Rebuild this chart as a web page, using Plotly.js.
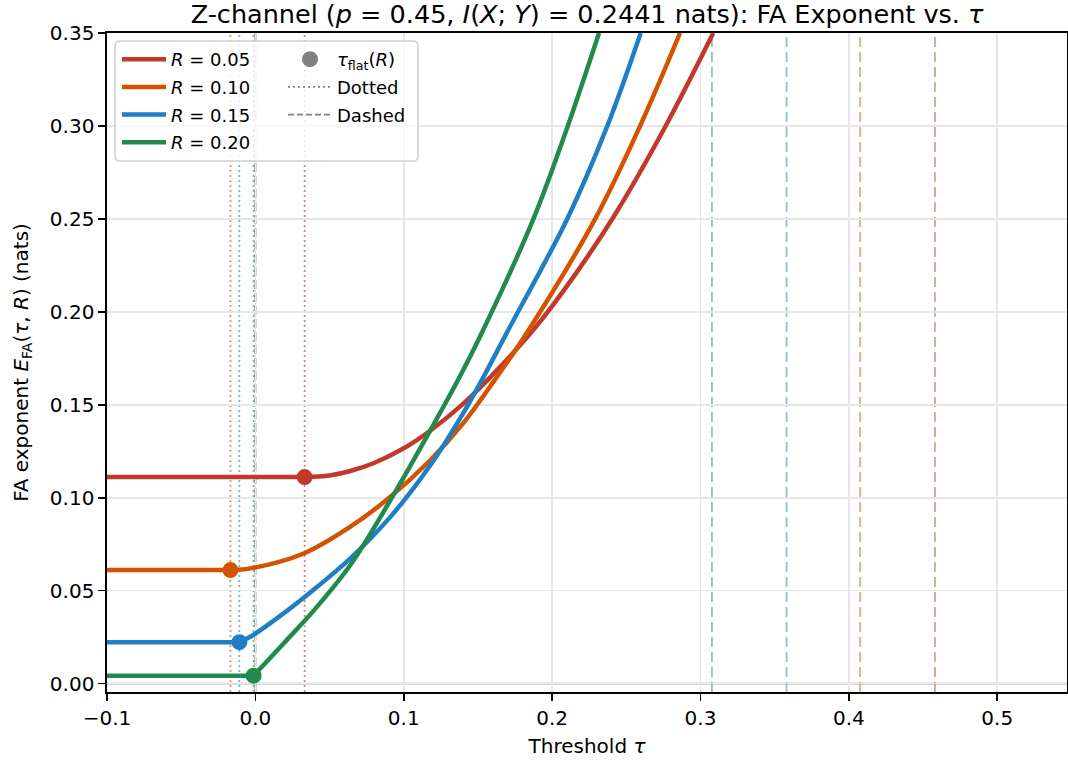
<!DOCTYPE html>
<html><head><meta charset="utf-8">
<script src="https://cdn.plot.ly/plotly-3.0.1.min.js"></script>
<style>html,body{margin:0;padding:0;background:#fff}#chart{width:1068px;height:764px}</style>
</head><body><div id="chart"></div>
<script>
// ---- data ----
const rateLabels = ['0.05', '0.10', '0.15', '0.20'];
const colors = ['#c0392b', '#d35400', '#1f7fc4', '#218a4c'];
const tauStart = -0.1;
const tauFlat = [0.0332, -0.0168, -0.0108, -0.0012];
const eFlat = [0.1111, 0.0611, 0.0223, 0.0043];
const tauDashed = [0.458, 0.4076, 0.358, 0.3077];

const tauR05 = [0.0332, 0.05, 0.064, 0.08, 0.1, 0.118, 0.14, 0.16, 0.1886, 0.215, 0.2425, 0.2765, 0.3086];
const eR05   = [0.1111, 0.1120, 0.1144, 0.1187, 0.1266, 0.1362, 0.1505, 0.1662, 0.1915, 0.2195, 0.2525, 0.30, 0.35];
const tauR10 = [-0.0168, -0.0034, 0.0326, 0.064, 0.091, 0.118, 0.14, 0.161, 0.184, 0.229, 0.2593, 0.2862];
const eR10   = [0.0611, 0.0620, 0.0700, 0.0844, 0.1005, 0.1203, 0.140, 0.163, 0.190, 0.25, 0.30, 0.35];
const tauR15 = [-0.0108, -0.0034, 0.019, 0.0415, 0.064, 0.091, 0.118, 0.14, 0.1526, 0.1706, 0.2105, 0.2372, 0.2597];
const eR15   = [0.0223, 0.0252, 0.0378, 0.052, 0.0674, 0.0897, 0.1176, 0.1454, 0.1633, 0.1905, 0.2505, 0.30, 0.35];
const tauR20 = [-0.0012, 0.019, 0.0415, 0.064, 0.091, 0.118, 0.137, 0.152, 0.1874, 0.2099, 0.2316];
const eR20   = [0.0043, 0.0216, 0.0413, 0.0638, 0.0987, 0.1364, 0.164, 0.1877, 0.25, 0.2985, 0.35];

const curvesTau = [tauR05, tauR10, tauR15, tauR20];
const curvesE = [eR05, eR10, eR15, eR20];

const xTickVals = [-0.1, 0.0, 0.1, 0.2, 0.3, 0.4, 0.5];
const yTickVals = [0.00, 0.05, 0.10, 0.15, 0.20, 0.25, 0.30, 0.35];

function alpha(hex, a) {
  const r = parseInt(hex.slice(1,3),16), g = parseInt(hex.slice(3,5),16), b = parseInt(hex.slice(5,7),16);
  return `rgba(${r},${g},${b},${a})`;
}

const FONT = 'DejaVu Sans, sans-serif';
const traces = [];
// flat parts
for (let i = 0; i < 4; i++) {
  traces.push({
    type: 'scatter', mode: 'lines', x: [tauStart, tauFlat[i]], y: [eFlat[i], eFlat[i]],
    line: {color: colors[i], width: 4.5}, showlegend: false, hoverinfo: 'skip'
  });
}
// curved parts
for (let i = 0; i < 4; i++) {
  traces.push({
    type: 'scatter', mode: 'lines', x: curvesTau[i], y: curvesE[i],
    line: {color: colors[i], width: 4.5, shape: 'spline', smoothing: 1.0},
    name: '<i>R</i> = ' + rateLabels[i], legend: 'legend', legendgroup: 'g' + i
  });
}
// tau_flat markers
traces.push({
  type: 'scatter', mode: 'markers', x: tauFlat, y: eFlat,
  marker: {color: colors, size: 16}, showlegend: false
});
// legend-only entries
traces.push({type: 'scatter', mode: 'markers', x: [null], y: [null], marker: {color: '#808080', size: 16},
  name: '<i>τ</i><sub>flat</sub>(<i>R</i>)', legend: 'legend2', legendgroup: 'h1'});
traces.push({type: 'scatter', mode: 'lines', x: [null], y: [null], line: {color: '#808080', width: 1.6, dash: '2px,3px'},
  name: 'Dotted', legend: 'legend2', legendgroup: 'h2'});
traces.push({type: 'scatter', mode: 'lines', x: [null], y: [null], line: {color: '#808080', width: 1.6, dash: '6px,3px'},
  name: 'Dashed', legend: 'legend2', legendgroup: 'h3'});

const shapes = [];
for (let i = 0; i < 4; i++) {
  shapes.push({type: 'line', xref: 'x', yref: 'paper', x0: tauFlat[i], x1: tauFlat[i], y0: 0, y1: 1,
    line: {color: alpha(colors[i], 0.6), width: 1.8, dash: '2px,3px'}, layer: 'between'});
  shapes.push({type: 'line', xref: 'x', yref: 'paper', x0: tauDashed[i], x1: tauDashed[i], y0: 0, y1: 1,
    line: {color: alpha(colors[i], 0.5), width: 1.8, dash: '10px,5px'}, layer: 'between'});
}
shapes.push({type: 'line', xref: 'x', yref: 'paper', x0: 0, x1: 0, y0: 0, y1: 1,
  line: {color: 'rgba(110,110,110,0.8)', width: 2, dash: '9px,4px'}, layer: 'between'});
shapes.push({type: 'line', xref: 'paper', yref: 'y', x0: 0, x1: 1, y0: 0, y1: 0,
  line: {color: 'rgba(128,128,128,0.6)', width: 1.8}, layer: 'between'});
// legend frame (rounded)
const L = (115-107)/960, Rr = (418-107)/960, T = (692-41)/659, B = (692-161)/659;
const rx = 5/960, ry = 5/659;
shapes.push({type: 'path', xref: 'paper', yref: 'paper', layer: 'above',
  path: `M ${L+rx},${T} L ${Rr-rx},${T} Q ${Rr},${T} ${Rr},${T-ry} L ${Rr},${B+ry} Q ${Rr},${B} ${Rr-rx},${B} L ${L+rx},${B} Q ${L},${B} ${L},${B+ry} L ${L},${T-ry} Q ${L},${T} ${L+rx},${T} Z`,
  fillcolor: 'rgba(255,255,255,0.8)', line: {color: '#d0d0d0', width: 1.6}});

const axisCommon = {
  showline: true, mirror: true, linecolor: '#000', linewidth: 1.6,
  ticks: 'outside', ticklen: 7, tickwidth: 1.6, tickcolor: '#000',
  showgrid: true, gridcolor: '#e7e7e7', gridwidth: 1.6, zeroline: false,
  tickfont: {family: FONT, size: 20, color: '#000'}
};

const layout = {
  width: 1068, height: 764,
  margin: {l: 107, r: 1, t: 33, b: 72},
  paper_bgcolor: '#fff', plot_bgcolor: '#fff',
  font: {family: FONT, color: '#000'},
  title: {text: 'Z-channel (<i>p</i> = 0.45, <i>I</i>(<i>X</i>; <i>Y</i>) = 0.2441 nats): FA Exponent vs. <i>τ</i>',
    font: {family: FONT, size: 25.5, color: '#000'}, x: 0.5, xref: 'paper', y: 1 - 14/764, yref: 'container', yanchor: 'middle'},
  xaxis: Object.assign({}, axisCommon, {
    range: [-0.1, 0.547], tickvals: xTickVals, tickformat: '.1f',
    title: {text: 'Threshold <i>τ</i>', font: {family: FONT, size: 20, color: '#000'}, standoff: 10}
  }),
  yaxis: Object.assign({}, axisCommon, {
    range: [-0.0045, 0.35], tickvals: yTickVals, tickformat: '.2f',
    title: {text: 'FA exponent <i>E</i><sub>FA</sub>(<i>τ</i>, <i>R</i>) (nats)', font: {family: FONT, size: 20, color: '#000'}, standoff: 16}
  }),
  legend: {x: (117-107)/960, y: (692-41)/659, xanchor: 'left', yanchor: 'top', bgcolor: 'rgba(0,0,0,0)', borderwidth: 0,
    font: {family: FONT, size: 18, color: '#000'}, itemwidth: 44, traceorder: 'grouped', tracegroupgap: 1.3},
  legend2: {x: (283-107)/960, y: (692-41)/659, xanchor: 'left', yanchor: 'top', bgcolor: 'rgba(0,0,0,0)', borderwidth: 0,
    font: {family: FONT, size: 18, color: '#000'}, itemwidth: 44, traceorder: 'grouped', tracegroupgap: 1.3},
  shapes: shapes,
  showlegend: true
};

Plotly.newPlot('chart', traces, layout, {displayModeBar: false, staticPlot: true});
</script></body></html>
